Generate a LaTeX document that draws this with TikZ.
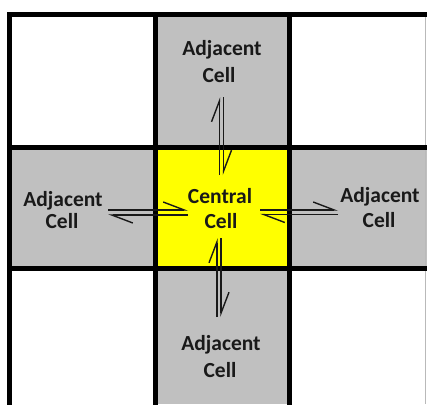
\documentclass[tikz,border=0pt]{standalone}
\usepackage{fontspec}
\setmainfont{Carlito}
\usetikzlibrary{arrows.meta}
\definecolor{cellgray}{RGB}{192,192,192}
\definecolor{cellyellow}{RGB}{255,255,0}
\definecolor{ink}{RGB}{25,25,25}
\begin{document}
\begin{tikzpicture}[x=1pt,y=-1pt,
  gridline/.style={line width=5pt, draw=black, line join=miter, line cap=rect},
  lbl/.style={anchor=base, inner sep=0pt, text=ink,
              font=\fontsize{21.5}{25}\selectfont\bfseries},
  flow/.style={line width=1.4pt, draw=ink,
              -{Straight Barb[harpoon,length=21pt,width=16pt,line width=1.4pt]}}]
\useasboundingbox (0,0) rectangle (427,404);
\fill[white] (0,0) rectangle (427,404);

% cell fills
\fill[cellgray]   (155.5,14.5)  rectangle (289,147);
\fill[cellgray]   (9.5,147)     rectangle (155.5,268.5);
\fill[cellgray]   (289,147)     rectangle (427,268.5);
\fill[cellgray]   (155.5,268.5) rectangle (289,404);
\fill[cellyellow] (155.5,147)   rectangle (289,268.5);

% faint outer edge on the right
\draw[gray!55, line width=0.8pt] (425.7,14.5) -- (425.7,404);

% grid lines
\draw[gridline] (9.5,406) -- (9.5,14.5) -- (429,14.5);
\draw[gridline] (155.5,14.5) -- (155.5,406);
\draw[gridline] (289,14.5) -- (289,406);
\draw[gridline] (9.5,147) -- (429,147);
\draw[gridline] (9.5,268.5) -- (429,268.5);

% labels
\node[lbl] (topA) at (222,56)  {Adjacent};
\node[lbl] (topC) at (219,82)  {Cell};
\node[lbl] (cenA) at (220,203) {Central};
\node[lbl] (cenC) at (221,228) {Cell};
\node[lbl] (lftA) at (63,206)  {Adjacent};
\node[lbl] (lftC) at (62,228)  {Cell};
\node[lbl] (rgtA) at (380,202) {Adjacent};
\node[lbl] (rgtC) at (379,227) {Cell};
\node[lbl] (botA) at (221,350) {Adjacent};
\node[lbl] (botC) at (220,377) {Cell};

% harpoon end points
\coordinate (tu1) at (219.5,175);  \coordinate (tu2) at (219.5,97);
\coordinate (td1) at (223.5,97);   \coordinate (td2) at (223.5,175);
\coordinate (bu1) at (217,317);    \coordinate (bu2) at (217,238);
\coordinate (bd1) at (221,238);    \coordinate (bd2) at (221,317);
\coordinate (lr1) at (108,210);    \coordinate (lr2) at (188,210);
\coordinate (ll1) at (188,215);    \coordinate (ll2) at (108,215);
\coordinate (rr1) at (260,210);    \coordinate (rr2) at (338,210);
\coordinate (rl1) at (338,214.5);  \coordinate (rl2) at (260,214.5);

% exchanges between the central cell and its neighbours
\draw[flow] (tu1) -- (tu2);
\draw[flow] (td1) -- (td2);
\draw[flow] (bu1) -- (bu2);
\draw[flow] (bd1) -- (bd2);
\draw[flow] (lr1) -- (lr2);
\draw[flow] (ll1) -- (ll2);
\draw[flow] (rr1) -- (rr2);
\draw[flow] (rl1) -- (rl2);
\end{tikzpicture}
\end{document}
